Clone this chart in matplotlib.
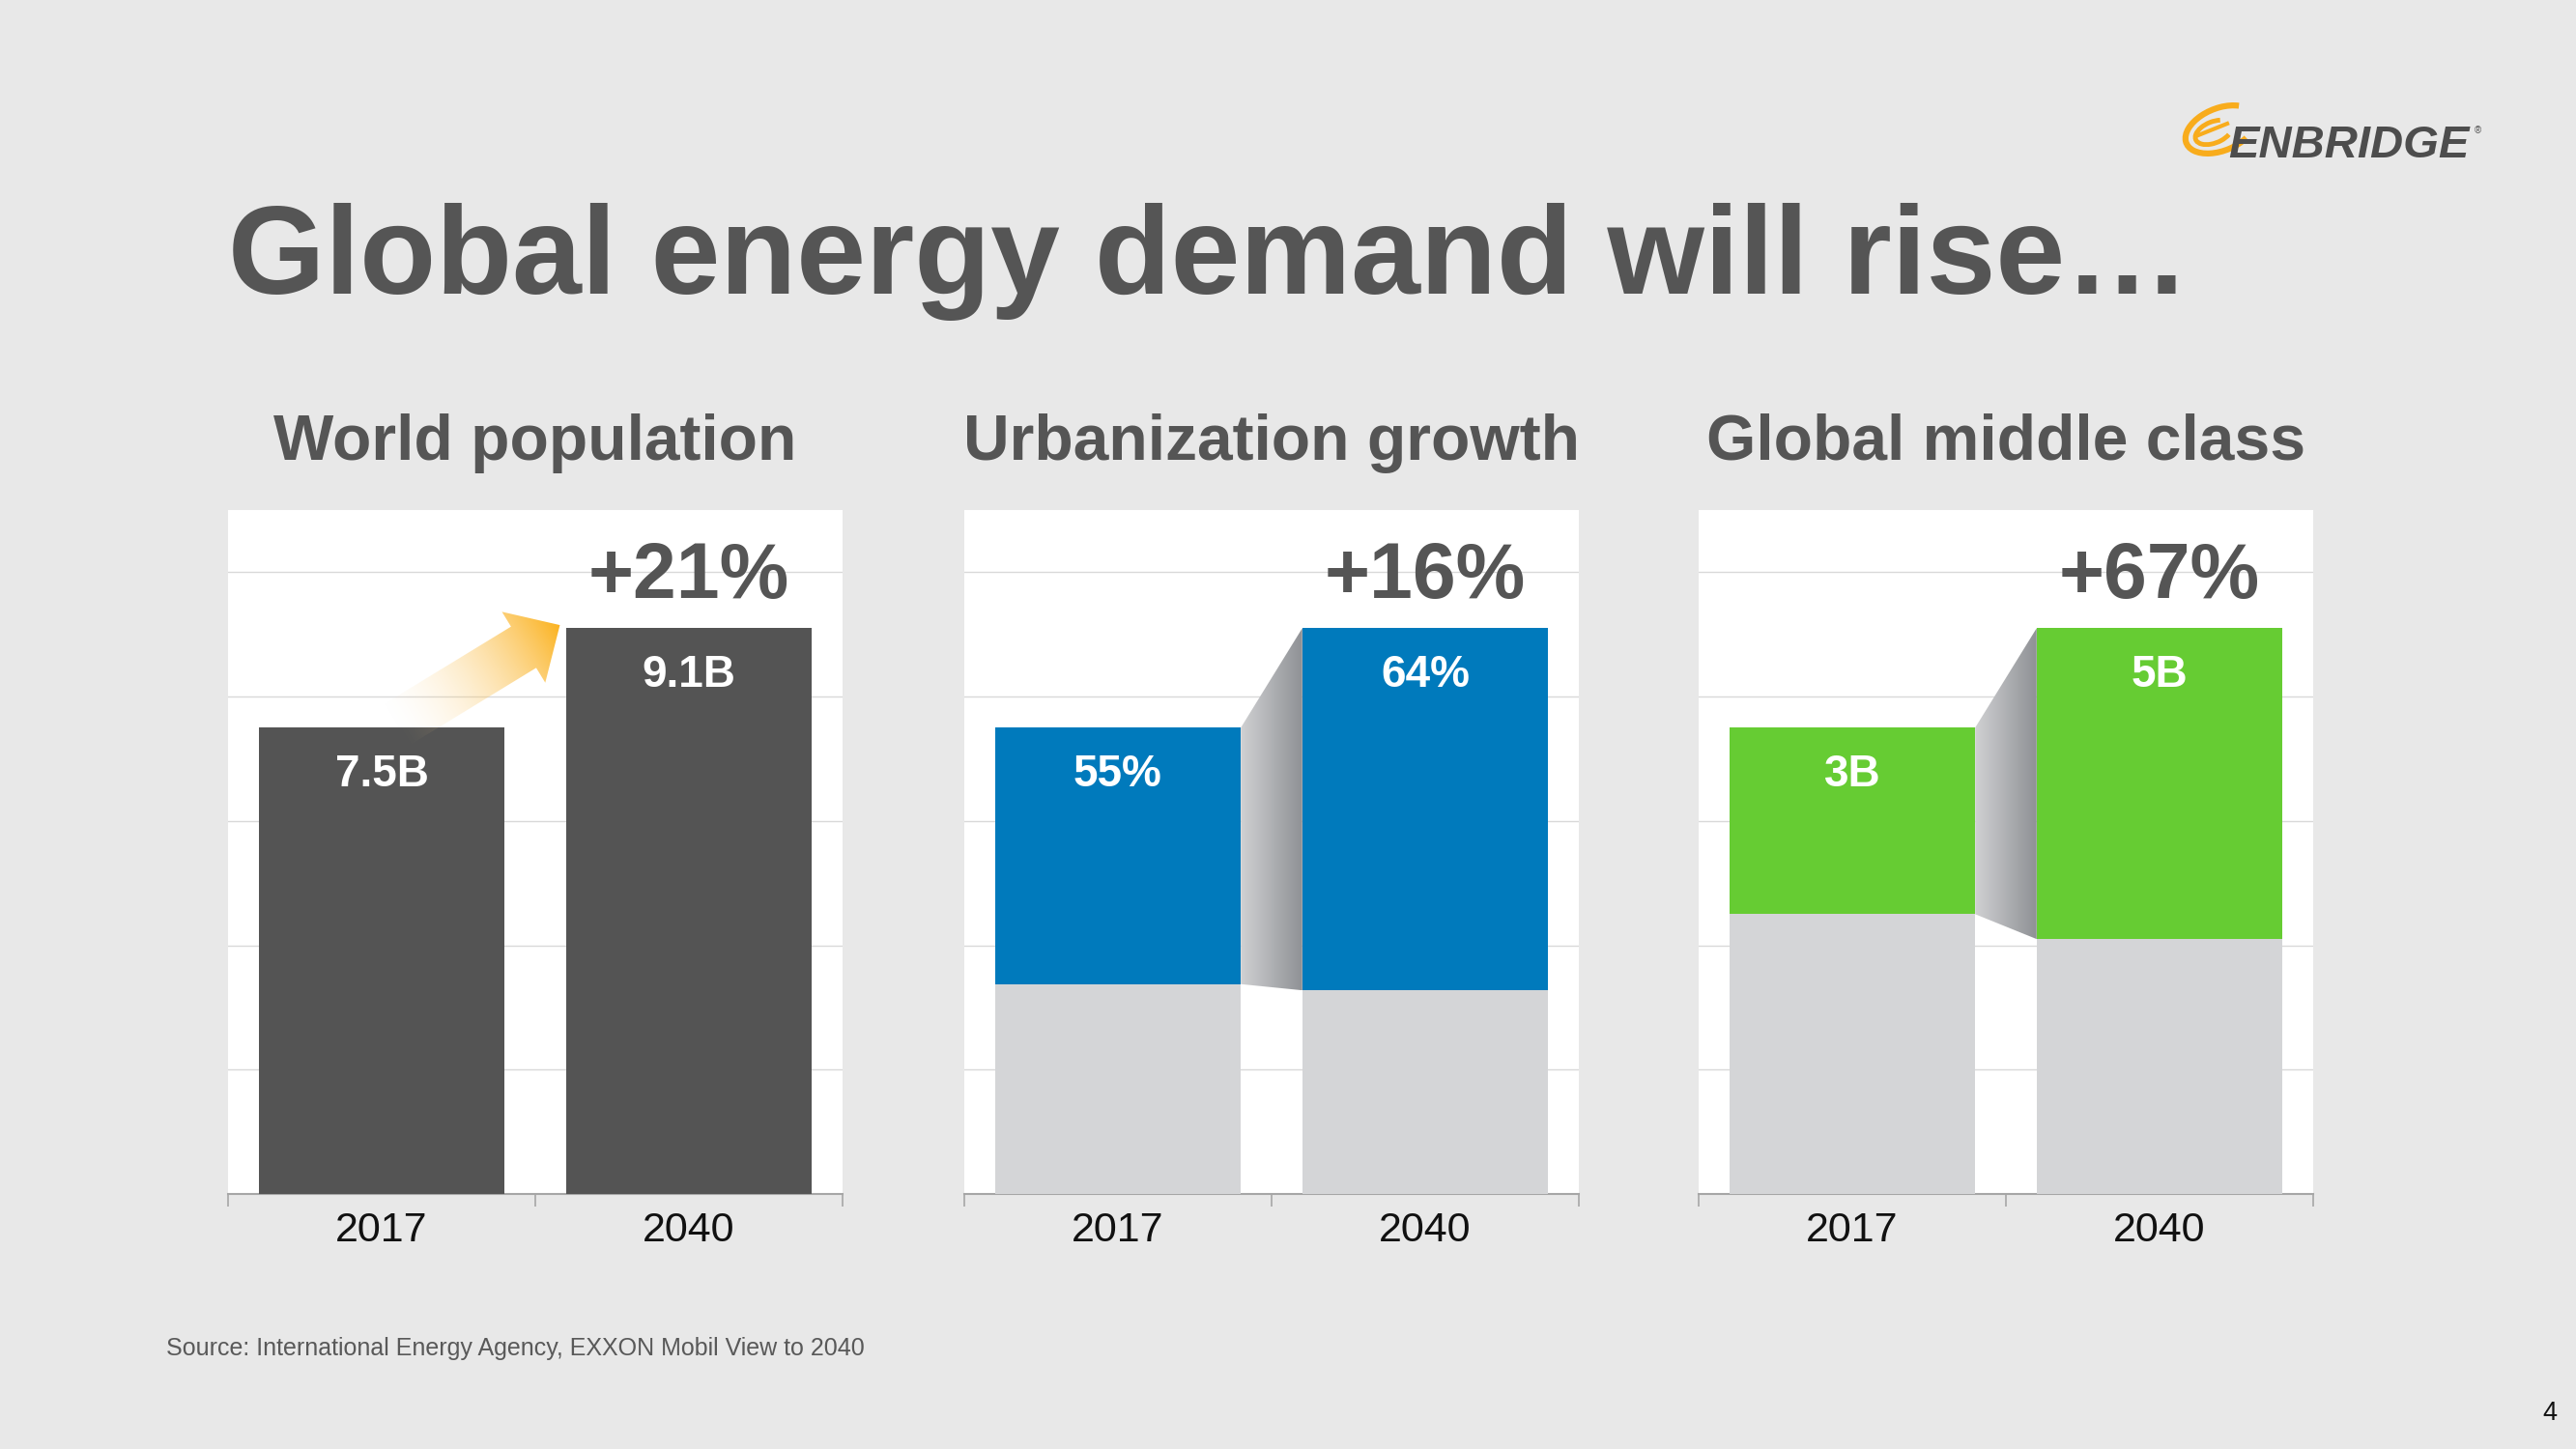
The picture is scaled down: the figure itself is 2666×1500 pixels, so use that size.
import numpy as np
import matplotlib
matplotlib.use("Agg")
import matplotlib.pyplot as plt
from matplotlib.patches import Polygon, Arc
from matplotlib.colors import LinearSegmentedColormap

plt.rcParams['font.family'] = ['Liberation Sans', 'DejaVu Sans']

# ==================== Data ====================

YEARS        = ['2017', '2040']
POPULATION   = [7.5, 9.1]          # billions
URBAN_SHARE  = [55, 64]            # % of population
MIDDLE_CLASS = [3.0, 5.0]          # billions

PANEL_TITLES = ['World population', 'Urbanization growth', 'Global middle class']
GROWTH       = ['+21%', '+16%', '+67%']
POP_LABELS   = ['7.5B', '9.1B']
URBAN_LABELS = ['55%', '64%']
MC_LABELS    = ['3B', '5B']

TITLE  = 'Global energy demand will rise\u2026'
SOURCE = 'Source: International Energy Agency, EXXON Mobil View to 2040'

# ==================== Style ====================

W, H     = 2666, 1500
BG       = '#e8e8e8'
TEXT     = '#555555'
DARK     = '#545454'
GRAY     = '#d4d5d7'
BLUE     = '#007abc'
GREEN    = '#66cc33'
GRID     = '#d9d9d9'
AXIS     = '#a6a6a6'
ORANGE   = (0.985, 0.70, 0.12)

PANEL_LEFT = [236, 998, 1758]
PANEL_W    = 636
PANEL_TOP  = 528
PANEL_BOT  = 1236


def px_rect(left, top, w, h):
    return [left / W, 1 - (top + h) / H, w / W, h / H]


fig = plt.figure(figsize=(W / 100, H / 100), dpi=100, facecolor=BG)

fig.text(236 / W, 1 - 304 / H, TITLE, ha='left', va='baseline',
         fontsize=93, fontweight='bold', color=TEXT)
fig.text(172 / W, 1 - 1403 / H, SOURCE, ha='left', va='baseline',
         fontsize=18, color='#595959')
fig.text(2646 / W, 1 - 1470 / H, '4', ha='right', va='baseline',
         fontsize=19.5, color='#111111')

x = np.arange(len(YEARS))
axes = []
for i in range(3):
    ax = fig.add_axes(px_rect(PANEL_LEFT[i], PANEL_TOP, PANEL_W, PANEL_BOT - PANEL_TOP))
    ax.set_facecolor('white')
    ax.set_xlim(-0.5, 1.5)
    ax.set_ylim(0, 11)
    ax.set_yticks([2, 4, 6, 8, 10])
    ax.yaxis.grid(True, color=GRID, lw=1.0)
    ax.set_axisbelow(True)
    ax.tick_params(axis='y', length=0, labelleft=False)
    ax.set_xticks(x)
    ax.set_xticklabels(YEARS)
    ax.set_xticks([-0.5, 0.5, 1.5], minor=True)
    ax.tick_params(axis='x', which='major', length=0, pad=13,
                   labelsize=31, labelcolor='#111111')
    ax.tick_params(axis='x', which='minor', length=9, width=1.2,
                   color=AXIS, direction='out')
    for s in ['top', 'left', 'right']:
        ax.spines[s].set_visible(False)
    ax.spines['bottom'].set_color(AXIS)
    ax.spines['bottom'].set_linewidth(1.5)
    ax.text(0.5, 1 + 52 / (PANEL_BOT - PANEL_TOP), PANEL_TITLES[i],
            transform=ax.transAxes, ha='center', va='baseline',
            fontsize=47.5, fontweight='bold', color=TEXT)
    axes.append(ax)

# ---- panel 1: population
ax = axes[0]
ax.bar(x, POPULATION, width=0.8, color=DARK, zorder=3)

# ---- panel 2: urban share (stacked on rest of population)
urban = [p * s / 100 for p, s in zip(POPULATION, URBAN_SHARE)]
rural = [p - u for p, u in zip(POPULATION, urban)]
axes[1].bar(x, rural, width=0.8, color=GRAY, zorder=3)
axes[1].bar(x, urban, bottom=rural, width=0.8, color=BLUE, zorder=3)

# ---- panel 3: middle class
rest = [p - m for p, m in zip(POPULATION, MIDDLE_CLASS)]
axes[2].bar(x, rest, width=0.8, color=GRAY, zorder=3)
axes[2].bar(x, MIDDLE_CLASS, bottom=rest, width=0.8, color=GREEN, zorder=3)

# connectors (gray gradient between stacked segments)
conn_cmap = LinearSegmentedColormap.from_list('conn', ['#d0d1d3', '#8f9195'])
for ax, base in [(axes[1], rural), (axes[2], rest)]:
    verts = [(0.4, POPULATION[0]), (0.6, POPULATION[1]),
             (0.6, base[1]), (0.4, base[0])]
    poly = Polygon(verts, closed=True, transform=ax.transData, facecolor='none', edgecolor='none')
    ax.add_patch(poly)
    grad = np.linspace(0, 1, 256).reshape(1, -1)
    im = ax.imshow(grad, cmap=conn_cmap, aspect='auto', interpolation='bilinear',
                   extent=(0.4, 0.6, min(base), max(POPULATION)), zorder=2.5)
    im.set_clip_path(poly)
    ax.set_xlim(-0.5, 1.5)
    ax.set_ylim(0, 11)

# value labels and growth labels
for ax, labels in zip(axes, [POP_LABELS, URBAN_LABELS, MC_LABELS]):
    for i, lbl in enumerate(labels):
        ax.annotate(lbl, xy=(i, POPULATION[i]), xytext=(0, -44), textcoords='offset points',
                    ha='center', va='baseline', fontsize=33, fontweight='bold',
                    color='white', zorder=5)
for ax, g in zip(axes, GROWTH):
    ax.annotate(g, xy=(1, POPULATION[1]), xytext=(0, 22.7), textcoords='offset points',
                ha='center', va='baseline', fontsize=58, fontweight='bold',
                color=TEXT, zorder=5)

# ==================== Overlay (arrow + logo), pixel coords ====================

ov = fig.add_axes([0, 0, 1, 1], zorder=10)
ov.set_xlim(0, W)
ov.set_ylim(H, 0)
ov.axis('off')
ov.patch.set_alpha(0)


def to_ov(ax, pt):
    return ov.transData.inverted().transform(ax.transData.transform(pt))


tail = to_ov(axes[0], (0.04, POPULATION[0] + 0.02))
tip = to_ov(axes[0], (0.58, POPULATION[1] + 0.05))
u = (tip - tail) / np.hypot(*(tip - tail))
n = np.array([-u[1], u[0]])
shaft_w, head_w, head_l = 50, 86, 44
base = tip - u * head_l
arrow_verts = [tail + n * shaft_w / 2, base + n * shaft_w / 2, base + n * head_w / 2, tip,
               base - n * head_w / 2, base - n * shaft_w / 2, tail - n * shaft_w / 2]
arrow_poly = Polygon(arrow_verts, closed=True, facecolor='none', edgecolor='none')
ov.add_patch(arrow_poly)
xs = [v[0] for v in arrow_verts]
ys = [v[1] for v in arrow_verts]
x0, x1 = int(min(xs)) - 2, int(max(xs)) + 2
y0, y1 = int(min(ys)) - 2, int(max(ys)) + 2
gx, gy = np.meshgrid(np.arange(x0, x1) + 0.5, np.arange(y0, y1) + 0.5)
t = ((gx - tail[0]) * u[0] + (gy - tail[1]) * u[1]) / np.hypot(*(tip - tail))
t = np.clip(t, 0, 1)
rgba = np.zeros(gx.shape + (4,))
rgba[..., 0] = ORANGE[0]
rgba[..., 1] = ORANGE[1] + (1 - t) * 0.15
rgba[..., 2] = ORANGE[2] + (1 - t) * 0.5
rgba[..., 3] = t ** 1.4
aim = ov.imshow(rgba, extent=(x0, x1, y1, y0), origin='upper', interpolation='bilinear', zorder=3)
aim.set_clip_path(arrow_poly)
ov.set_xlim(0, W)
ov.set_ylim(H, 0)

# logo
LOGO_ORANGE = '#f8ac1c'
ov.add_patch(Arc((2298, 134), 76, 44, angle=-22, theta1=40, theta2=330,
                 color=LOGO_ORANGE, lw=4.5))
ov.add_patch(Arc((2291, 137), 40, 22, angle=-22, theta1=30, theta2=320,
                 color=LOGO_ORANGE, lw=3.5))
ov.plot([2275, 2305], [140, 128], color=LOGO_ORANGE, lw=3)
ov.text(2306, 163, 'ENBRIDGE', ha='left', va='baseline', fontsize=34,
        fontweight='heavy', fontstyle='italic', color='#4d4d4d')
ov.text(2561, 138, '\u00ae', ha='left', va='baseline', fontsize=7, color='#4d4d4d')

fig.savefig('out.png', dpi=100, facecolor=BG)
